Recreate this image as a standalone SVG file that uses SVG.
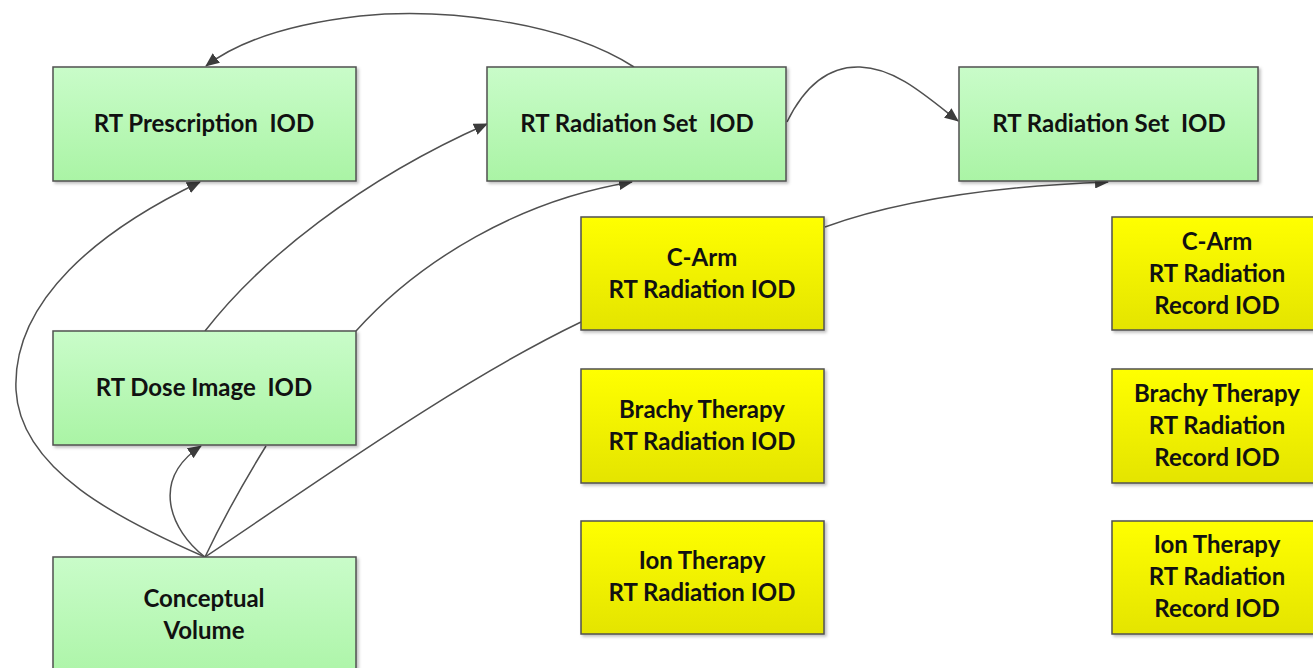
<svg xmlns="http://www.w3.org/2000/svg" width="1313" height="668" viewBox="0 0 1313 668">
  <defs>
    <linearGradient id="gGreen" x1="0" y1="0" x2="0" y2="1">
      <stop offset="0" stop-color="#c9fcc9"/>
      <stop offset="1" stop-color="#aaf4a5"/>
    </linearGradient>
    <linearGradient id="gYellow" x1="0" y1="0" x2="0" y2="1">
      <stop offset="0" stop-color="#ffff00"/>
      <stop offset="1" stop-color="#e4e400"/>
    </linearGradient>
    <filter id="shadow" x="-5%" y="-5%" width="115%" height="120%">
      <feDropShadow dx="2" dy="2" stdDeviation="1.5" flood-color="#000" flood-opacity="0.25"/>
    </filter>
    <marker id="arrow" viewBox="0 0 14 12" refX="13" refY="6" markerWidth="14" markerHeight="12" markerUnits="userSpaceOnUse" orient="auto">
      <path d="M0,0 L14,6 L0,12 Z" fill="#3c3c3c"/>
    </marker>
  </defs>
  <style>
    .green { fill: url(#gGreen); stroke: #505050; stroke-width: 1.5; filter: url(#shadow); }
    .yellow { fill: url(#gYellow); stroke: #505050; stroke-width: 1.5; filter: url(#shadow); }
    .label { font-family: Lato, "Open Sans", "Liberation Sans", sans-serif; font-weight: 700; font-size: 24px; fill: #111111; text-anchor: middle; white-space: pre; }
    .conn { fill: none; stroke: #505050; stroke-width: 1.5; }
  </style>
  <rect width="1313" height="668" fill="#ffffff"/>

  <!-- connectors -->
  <g id="connectors">
    <!-- radiation set -> prescription (over the top) -->
    <path class="conn" d="M634,67 C560,20 440,8 360,16 C290,24 240,40 206,66" marker-end="url(#arrow)"/>
    <!-- radiation set -> radiation set (right) -->
    <path class="conn" d="M787,122 C805,85 830,66 860,67 C895,68 925,95 958,121" marker-end="url(#arrow)"/>
    <!-- dose image -> radiation set (left side) -->
    <path class="conn" d="M205,331 C260,260 360,180 487,124" marker-end="url(#arrow)"/>
    <!-- dose image -> radiation set (bottom) -->
    <path class="conn" d="M356,331 C420,260 520,200 632,182" marker-end="url(#arrow)"/>
    <!-- C-Arm -> radiation set (right, bottom) -->
    <path class="conn" d="M825,227 C900,200 1000,186 1108,182" marker-end="url(#arrow)"/>
    <!-- conceptual volume -> prescription (loop on the left) -->
    <path class="conn" d="M205,557 C120,520 20,470 16,390 C12,300 100,230 200,182" marker-end="url(#arrow)"/>
    <!-- conceptual volume -> dose image -->
    <path class="conn" d="M205,557 C170,530 150,480 201,446" marker-end="url(#arrow)"/>
    <!-- conceptual volume -> dose image (no head) -->
    <path class="conn" d="M205,557 C225,515 245,480 266,446"/>
    <!-- conceptual volume -> C-Arm -->
    <path class="conn" d="M205,557 C320,480 460,380 581,322"/>
  </g>

  <!-- green nodes -->
  <g id="rt-prescription">
    <rect class="green" x="53" y="67" width="303" height="114"/>
    <text class="label" x="204" y="132">RT Prescription  IOD</text>
  </g>
  <g id="rt-radiation-set-1">
    <rect class="green" x="487" y="67" width="299" height="114"/>
    <text class="label" x="637" y="132">RT Radiation Set  IOD</text>
  </g>
  <g id="rt-radiation-set-2">
    <rect class="green" x="959" y="67" width="299" height="114"/>
    <text class="label" x="1109" y="132">RT Radiation Set  IOD</text>
  </g>
  <g id="rt-dose-image">
    <rect class="green" x="53" y="331" width="303" height="114"/>
    <text class="label" x="204" y="396">RT Dose Image  IOD</text>
  </g>
  <g id="conceptual-volume">
    <rect class="green" x="53" y="557" width="303" height="130"/>
    <text class="label" x="204" y="607">Conceptual</text>
    <text class="label" x="204" y="639">Volume</text>
  </g>

  <!-- yellow radiation nodes -->
  <g id="c-arm-radiation">
    <rect class="yellow" x="581" y="217" width="243" height="113"/>
    <text class="label" x="702" y="266">C-Arm</text>
    <text class="label" x="702" y="298">RT Radiation IOD</text>
  </g>
  <g id="brachy-radiation">
    <rect class="yellow" x="581" y="369" width="243" height="114"/>
    <text class="label" x="702" y="418">Brachy Therapy</text>
    <text class="label" x="702" y="450">RT Radiation IOD</text>
  </g>
  <g id="ion-radiation">
    <rect class="yellow" x="581" y="521" width="243" height="113"/>
    <text class="label" x="702" y="569">Ion Therapy</text>
    <text class="label" x="702" y="601">RT Radiation IOD</text>
  </g>

  <!-- yellow record nodes -->
  <g id="c-arm-record">
    <rect class="yellow" x="1112" y="217" width="213" height="113"/>
    <text class="label" x="1217" y="250">C-Arm</text>
    <text class="label" x="1217" y="282">RT Radiation</text>
    <text class="label" x="1217" y="314">Record IOD</text>
  </g>
  <g id="brachy-record">
    <rect class="yellow" x="1112" y="369" width="213" height="114"/>
    <text class="label" x="1217" y="402">Brachy Therapy</text>
    <text class="label" x="1217" y="434">RT Radiation</text>
    <text class="label" x="1217" y="466">Record IOD</text>
  </g>
  <g id="ion-record">
    <rect class="yellow" x="1112" y="521" width="213" height="113"/>
    <text class="label" x="1217" y="553">Ion Therapy</text>
    <text class="label" x="1217" y="585">RT Radiation</text>
    <text class="label" x="1217" y="617">Record IOD</text>
  </g>
</svg>
